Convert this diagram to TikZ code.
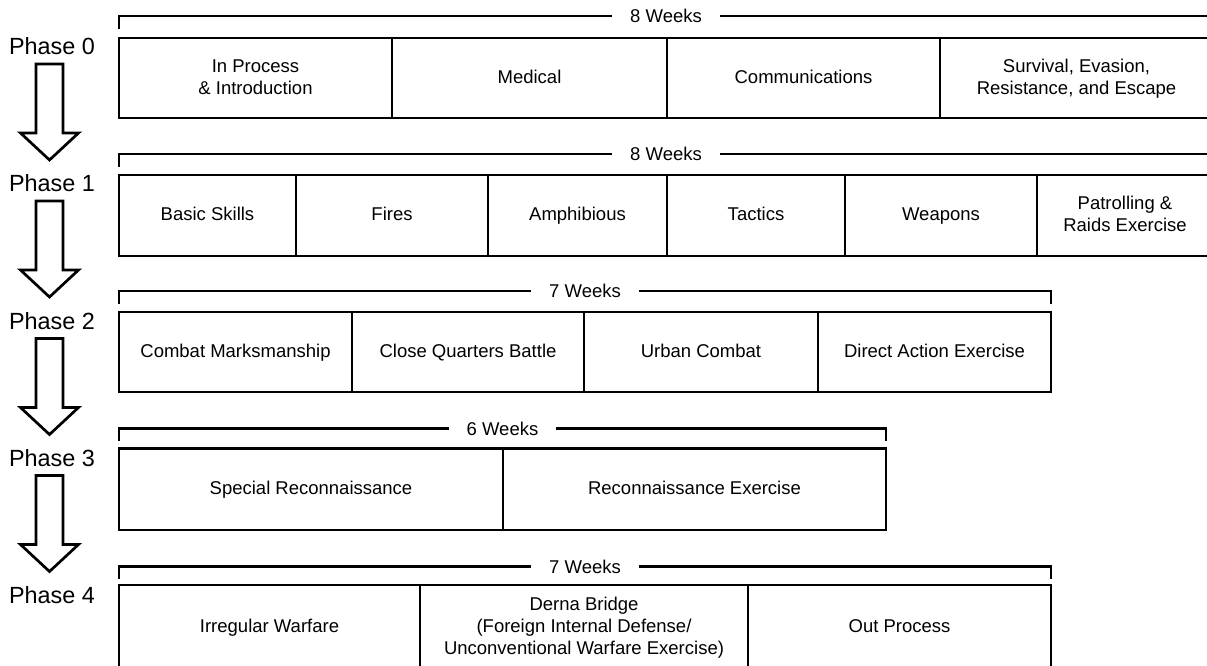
\documentclass[tikz,border=0pt]{standalone}
\usepackage{fontspec}
\setmainfont{Liberation Sans}
\usetikzlibrary{calc}
\tikzset{
  cell/.style={draw, line width=2.7pt, inner sep=0pt, align=center,
    font=\fontsize{18.5}{22}\selectfont},
  brk/.style={line width=2.7pt},
  wk/.style={fill=white, inner xsep=18pt, inner ysep=0pt, font=\fontsize{18.5}{22}\selectfont},
  phase/.style={inner sep=0pt, font=\fontsize{23.4}{26}\selectfont},
  blockarrow/.style={draw, line width=2.7pt, line join=miter, fill=white}
}
\newcommand{\cellat}[6]{% name, x1, x2, yt, yb, text
  \node[cell, minimum width={(#3)-(#2)}, minimum height={(#5)-(#4)}] (#1) at ({((#2)+(#3))/2},{((#4)+(#5))/2}) {\rule{0pt}{16pt}#6\rule[-5.2pt]{0pt}{0pt}};}
\newcommand{\bracketat}[6]{% name, x1, x2, y, ytick, text
  \draw[brk] (#2,#5) -- (#2,#4) -- (#3,#4) -- (#3,#5);
  \node[wk] (#1) at ({((#2)+(#3))/2},#4) {\rule{0pt}{17.5pt}#6\rule[-4.2pt]{0pt}{0pt}};}
\begin{document}
\begin{tikzpicture}[x=1pt,y=-1pt]
\useasboundingbox (0,0) rectangle (1207,666);
\clip (0,0) rectangle (1207,666);
\fill[white] (0,0) rectangle (1207,666);

% Phase 0
\bracketat{w0}{119}{1213}{16}{29.5}{8 Weeks}
\cellat{c00}{119}{392}{38}{118}{In Process\\\& Introduction}
\cellat{c01}{392}{667}{38}{118}{Medical}
\cellat{c02}{667}{940}{38}{118}{Communications}
\cellat{c03}{940}{1213}{38}{118}{Survival, Evasion,\\Resistance, and Escape}

% Phase 1
\bracketat{w1}{119}{1213}{154}{167}{8 Weeks}
\cellat{c10}{119}{296}{175}{256}{Basic Skills}
\cellat{c11}{296}{488}{175}{256}{Fires}
\cellat{c12}{488}{667}{175}{256}{Amphibious}
\cellat{c13}{667}{845}{175}{256}{Tactics}
\cellat{c14}{845}{1037}{175}{256}{Weapons}
\cellat{c15}{1037}{1213}{175}{256}{Patrolling \&\\Raids Exercise}

% Phase 2
\bracketat{w2}{119}{1051}{291}{304}{7 Weeks}
\cellat{c20}{119}{352}{312}{392}{Combat Marksmanship}
\cellat{c21}{352}{584}{312}{392}{Close Quarters Battle}
\cellat{c22}{584}{818}{312}{392}{Urban Combat}
\cellat{c23}{818}{1051}{312}{392}{Direct Action Exercise}

% Phase 3
\bracketat{w3}{119}{886}{428.5}{441}{6 Weeks}
\cellat{c30}{119}{503}{448.5}{530}{Special Reconnaissance}
\cellat{c31}{503}{886}{448.5}{530}{Reconnaissance Exercise}

% Phase 4
\bracketat{w4}{119}{1051}{566.5}{579}{7 Weeks}
\cellat{c40}{119}{420}{585}{670}{Irregular Warfare}
\cellat{c41}{420}{748}{585}{670}{Derna Bridge\\(Foreign Internal Defense/\\Unconventional Warfare Exercise)}
\cellat{c42}{748}{1051}{585}{670}{Out Process}

% Phase labels
\node[phase] (p0) at (52,46.5) {Phase 0};
\node[phase] (p1) at (52,183.5) {Phase 1};
\node[phase] (p2) at (52,321) {Phase 2};
\node[phase] (p3) at (52,458) {Phase 3};
\node[phase] (p4) at (52,595) {Phase 4};

% Block arrows
\foreach \a in {p0,p1,p2,p3}{
  \coordinate (t) at ($(\a.center)+(-2.5,17.5)$);
  \draw[blockarrow] ($(t)+(-13.5,0)$) -- ($(t)+(13.5,0)$) -- ($(t)+(13.5,69)$)
    -- ($(t)+(29,69)$) -- ($(t)+(0,96)$) -- ($(t)+(-29,69)$)
    -- ($(t)+(-13.5,69)$) -- cycle;
}
\end{tikzpicture}
\end{document}
